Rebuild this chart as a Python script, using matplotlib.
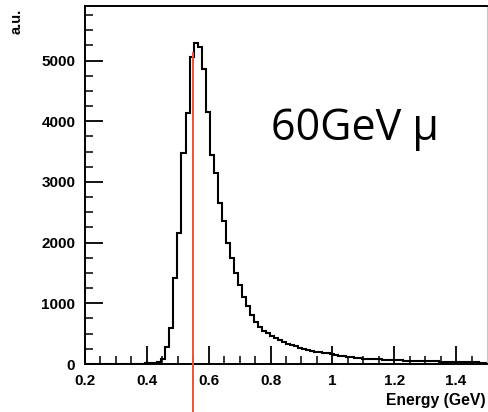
import numpy as np
import matplotlib
matplotlib.use('Agg')
import matplotlib.pyplot as plt

# histogram: 100 bins from 0.2 to 1.5 GeV
e_min, e_max, n_bins = 0.2, 1.5, 100
counts = [0, 0, 0, 0, 0, 0, 0, 0, 0, 0,
          0, 0, 5, 6, 8, 10, 12, 18, 40, 90,
          285, 590, 1415, 2155, 3470, 4130, 5055, 5290, 5220, 4860,
          4150, 3450, 3150, 2650, 2350, 2000, 1750, 1500, 1300, 1100,
          950, 800, 690, 610, 550, 510, 460, 430, 395, 365,
          330, 305, 300, 265, 245, 230, 215, 200, 190, 180,
          175, 160, 145, 135, 125, 120, 110, 105, 95, 90,
          85, 80, 85, 75, 70, 68, 62, 65, 58, 55,
          55, 52, 50, 48, 50, 46, 44, 42, 40, 40,
          38, 36, 35, 33, 34, 30, 28, 26, 24, 22]
marker_e = 0.55
marker_top = 5120

x_ticks = [0.2, 0.4, 0.6, 0.8, 1.0, 1.2, 1.4]
x_labels = ['0.2', '0.4', '0.6', '0.8', '1', '1.2', '1.4']
y_ticks = [0, 1000, 2000, 3000, 4000, 5000]

edges = np.linspace(e_min, e_max, n_bins + 1)

plt.rcParams['font.family'] = ['Liberation Sans', 'DejaVu Sans']

fig = plt.figure(figsize=(4.88, 4.12), dpi=100)
ax = fig.add_axes([85/488, 48/412, 402/488, 358/412])

ax.stairs(counts, edges, color='black', lw=1.5, baseline=0)
ax.plot([marker_e, marker_e], [-800, marker_top], color='#f0503c', lw=1.4,
        clip_on=False, zorder=5)

ax.set_xlim(e_min, e_max)
ax.set_ylim(0, 5900)
ax.set_xticks(x_ticks)
ax.set_xticklabels(x_labels)
ax.set_yticks(y_ticks)
ax.set_xticks(np.arange(0.25, 1.5, 0.05), minor=True)
ax.set_yticks(np.arange(250, 5900, 250), minor=True)

ax.tick_params(which='major', direction='in', length=13, width=1.3,
               labelsize=11, pad=7)
ax.tick_params(which='minor', direction='in', length=6, width=1.1)
ax.tick_params(axis='y', which='both', right=False)
ax.tick_params(axis='x', which='both', top=False)
for lab in ax.get_xticklabels() + ax.get_yticklabels():
    lab.set_fontweight('bold')

for s in ['left', 'bottom', 'top']:
    ax.spines[s].set_linewidth(1.4)
ax.spines['right'].set_color('#c8c8c8')
ax.spines['right'].set_linewidth(0.8)

fig.text(17/488, 1 - 21/412, 'a.u.', rotation=90, ha='center', va='center',
         fontsize=10.5, fontweight='bold')
fig.text(486/488, 1 - 400/412, 'Energy (GeV)', ha='right', va='center',
         fontsize=11.3, fontweight='bold')
ax.text(0.8, 3690, '60GeV μ', fontsize=31, family=['Open Sans', 'DejaVu Sans'],
        ha='left', va='baseline')

fig.savefig('out.png', dpi=100)
